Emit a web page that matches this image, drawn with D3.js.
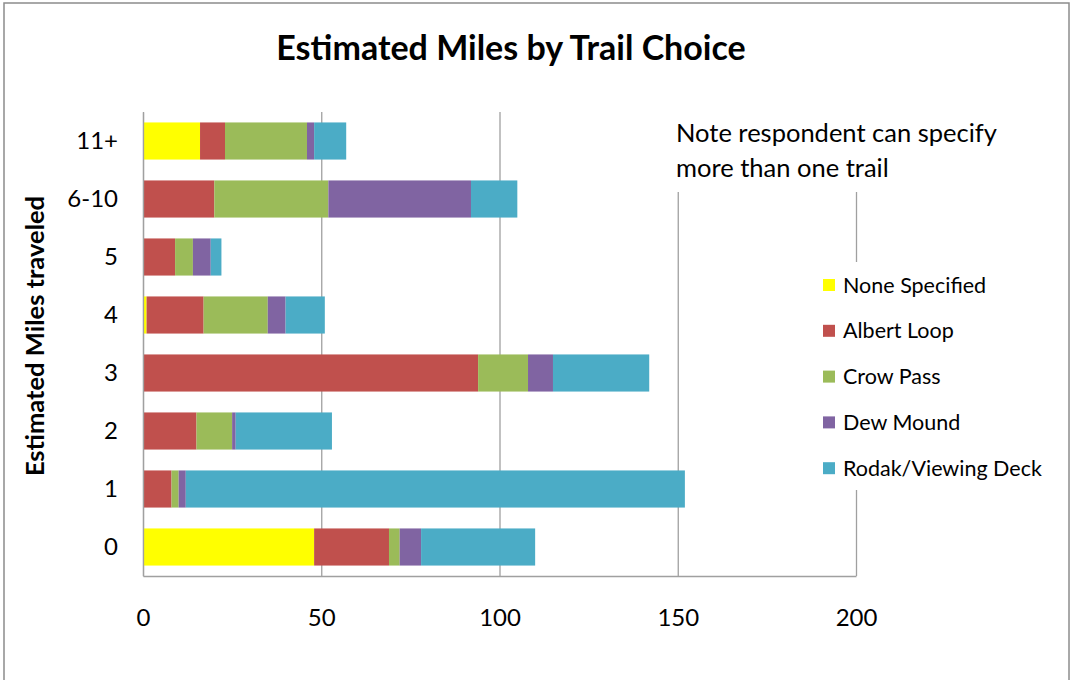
<!DOCTYPE html>
<html>
<head>
<meta charset="utf-8">
<script src="https://cdn.jsdelivr.net/npm/d3@7"></script>
<style>
  body { margin: 0; background: #fff; }
  text { font-family: Lato, "Open Sans", sans-serif; fill: #000; }
</style>
</head>
<body>
<script>
// rows, top to bottom
const categories = ["11+", "6-10", "5", "4", "3", "2", "1", "0"];
const trails = ["None Specified", "Albert Loop", "Crow Pass", "Dew Mound", "Rodak/Viewing Deck"];
const noneSpecified = [16, 0, 0, 1, 0, 0, 0, 48];
const albertLoop    = [7, 20, 9, 16, 94, 15, 8, 21];
const crowPass      = [23, 32, 5, 18, 14, 10, 2, 3];
const dewMound      = [2, 40, 5, 5, 7, 1, 2, 6];
const rodakDeck     = [9, 13, 3, 11, 27, 27, 140, 32];
const xTicks = [0, 50, 100, 150, 200];
const colors = ["#FFFF00", "#C0504D", "#9BBB59", "#8064A2", "#4BACC6"];

const series = [noneSpecified, albertLoop, crowPass, dewMound, rodakDeck];
const rows = categories.map((c, i) => {
    const row = { cat: c };
    trails.forEach((t, j) => row[t] = series[j][i]);
    return row;
});

const width = 1074;
const height = 680;
const margin = { left: 143, right: 218, top: 112, bottom: 104 };

const svg = d3.select("body").append("svg")
    .attr("width", width)
    .attr("height", height);

// outer chart frame
svg.append("rect")
    .attr("x", 4).attr("y", 3)
    .attr("width", 1065).attr("height", 700)
    .attr("fill", "#fff")
    .attr("stroke", "#8c8c8c")
    .attr("stroke-width", 1.5);

const x = d3.scaleLinear().domain([0, 200]).range([margin.left, width - margin.right]);
const y = d3.scaleBand().domain(categories)
    .range([margin.top, height - margin.bottom])
    .paddingInner(0.36).paddingOuter(0.18);

const stack = d3.stack().keys(trails);
const stacked = stack(rows);

// x axis with gridlines
const xAxis = svg.append("g")
    .attr("transform", `translate(0, ${height - margin.bottom})`)
    .call(d3.axisBottom(x).tickValues(xTicks)
        .tickSize(-(height - margin.bottom - margin.top))
        .tickSizeOuter(0).tickPadding(33));
xAxis.selectAll("line").attr("stroke", "#a0a0a0").attr("stroke-width", 1.3);
xAxis.select(".domain").attr("stroke", "#a0a0a0").attr("stroke-width", 1.3);
xAxis.selectAll("text").attr("font-size", 24).attr("fill", "#000");

// bars
svg.append("g").selectAll("g")
    .data(stacked)
    .join("g")
    .attr("fill", (d, i) => colors[i])
    .selectAll("rect")
    .data(d => d)
    .join("rect")
    .attr("x", d => x(d[0]))
    .attr("y", d => y(d.data.cat))
    .attr("width", d => x(d[1]) - x(d[0]))
    .attr("height", y.bandwidth());

// y axis
const yAxis = svg.append("g")
    .attr("transform", `translate(${margin.left}, 0)`)
    .call(d3.axisLeft(y).tickSize(0).tickPadding(25));
yAxis.select(".domain").attr("stroke", "#a0a0a0").attr("stroke-width", 1.3);
yAxis.selectAll("text").attr("font-size", 24).attr("fill", "#000");

// title
svg.append("text")
    .attr("x", 511).attr("y", 60)
    .attr("text-anchor", "middle")
    .attr("font-size", 34)
    .attr("font-weight", "bold")
    .text("Estimated Miles by Trail Choice");

svg.append("text")
    .attr("transform", "translate(44, 336) rotate(-90)")
    .attr("text-anchor", "middle")
    .attr("font-size", 25.5)
    .attr("font-weight", "bold")
    .text("Estimated Miles traveled");

// note box
svg.append("rect")
    .attr("x", 666).attr("y", margin.top)
    .attr("width", 345).attr("height", 80)
    .attr("fill", "#fff");
svg.append("text")
    .attr("x", 676).attr("y", 142)
    .attr("font-size", 25.5)
    .text("Note respondent can specify");
svg.append("text")
    .attr("x", 676).attr("y", 177)
    .attr("font-size", 25.5)
    .text("more than one trail");

// legend
svg.append("rect")
    .attr("x", 806).attr("y", 262)
    .attr("width", 252).attr("height", 228)
    .attr("fill", "#fff");
const legend = svg.append("g").selectAll("g")
    .data(trails)
    .join("g")
    .attr("transform", (d, i) => `translate(823, ${285 + i * 45.8})`);
legend.append("rect")
    .attr("x", 0).attr("y", -6)
    .attr("width", 12).attr("height", 12)
    .attr("fill", (d, i) => colors[i]);
legend.append("text")
    .attr("x", 20).attr("y", 7.5)
    .attr("font-size", 21.5)
    .text(d => d);
</script>
</body>
</html>
